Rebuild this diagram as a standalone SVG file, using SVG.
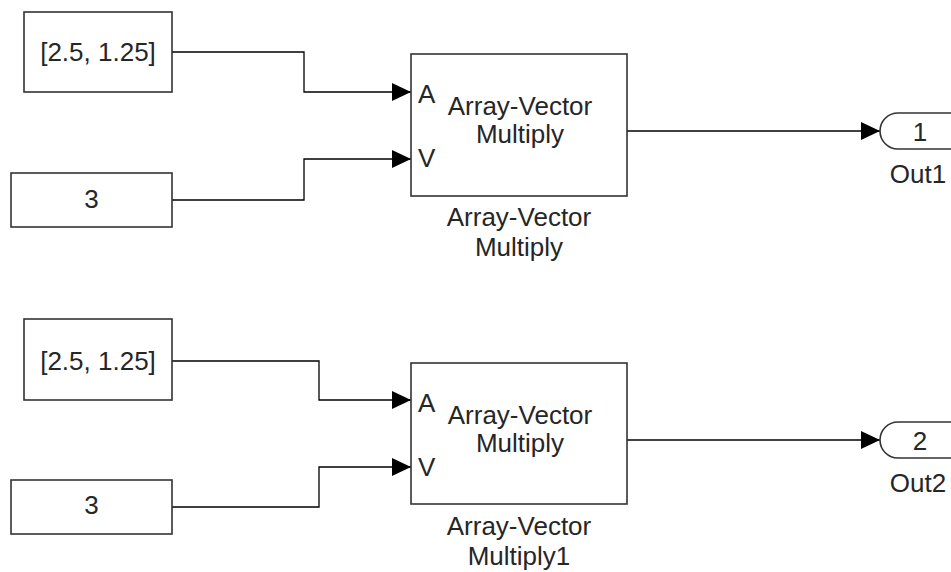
<svg xmlns="http://www.w3.org/2000/svg" width="951" height="572" viewBox="0 0 951 572">
<defs>
<marker id="arr" markerUnits="userSpaceOnUse" markerWidth="19" markerHeight="19" refX="19" refY="9" orient="auto">
<path d="M0,0 L19,9 L0,18 z" fill="#000"/>
</marker>
<style>
.blk{fill:#fff;stroke:#333;stroke-width:1.6}
.t{font-family:"Liberation Sans",Arial,sans-serif;font-size:26px;fill:#262626;text-anchor:middle}
.p{font-family:"Liberation Sans",Arial,sans-serif;font-size:26px;fill:#262626}
.w{fill:none;stroke:#000;stroke-width:1.3}
</style>
</defs>
<rect width="951" height="572" fill="#fff"/>
<g id="connectors">
<path class="w" d="M172,52 H304 V92 H411" marker-end="url(#arr)"/>
<path class="w" d="M172,200 H304 V159 H411" marker-end="url(#arr)"/>
<path class="w" d="M627,131 H880" marker-end="url(#arr)"/>
<path class="w" d="M172,361 H319 V400 H411" marker-end="url(#arr)"/>
<path class="w" d="M172,507 H319 V467 H411" marker-end="url(#arr)"/>
<path class="w" d="M627,440 H880" marker-end="url(#arr)"/>
</g>
<g id="const1">
<rect class="blk" x="24" y="12" width="148" height="80"/>
<text class="t" x="98" y="61">[2.5, 1.25]</text>
</g>
<g id="const2">
<rect class="blk" x="11" y="173" width="161" height="54"/>
<text class="t" x="91.5" y="208">3</text>
</g>
<g id="avm1">
<rect class="blk" x="411" y="54" width="216" height="142"/>
<text class="p" x="418" y="103">A</text>
<text class="p" x="418" y="167">V</text>
<text class="t" x="520" y="115">Array-Vector</text>
<text class="t" x="520" y="143">Multiply</text>
<text class="t" x="519" y="226">Array-Vector</text>
<text class="t" x="519" y="256">Multiply</text>
</g>
<g id="out1">
<path class="blk" d="M898,113 H959 A18,18 0 0 1 959,149 H898 A18,18 0 0 1 898,113 Z"/>
<text class="t" x="920" y="141">1</text>
<text class="t" x="918" y="183">Out1</text>
</g>
<g id="const3">
<rect class="blk" x="24" y="319" width="148" height="81"/>
<text class="t" x="98" y="370">[2.5, 1.25]</text>
</g>
<g id="const4">
<rect class="blk" x="11" y="480" width="161" height="54"/>
<text class="t" x="91.5" y="514">3</text>
</g>
<g id="avm2">
<rect class="blk" x="411" y="363" width="216" height="141"/>
<text class="p" x="418" y="412">A</text>
<text class="p" x="418" y="476">V</text>
<text class="t" x="520" y="424">Array-Vector</text>
<text class="t" x="520" y="452">Multiply</text>
<text class="t" x="519" y="535">Array-Vector</text>
<text class="t" x="519" y="565">Multiply1</text>
</g>
<g id="out2">
<path class="blk" d="M898,422 H959 A18,18 0 0 1 959,458 H898 A18,18 0 0 1 898,422 Z"/>
<text class="t" x="920" y="450">2</text>
<text class="t" x="918" y="492">Out2</text>
</g>
</svg>
